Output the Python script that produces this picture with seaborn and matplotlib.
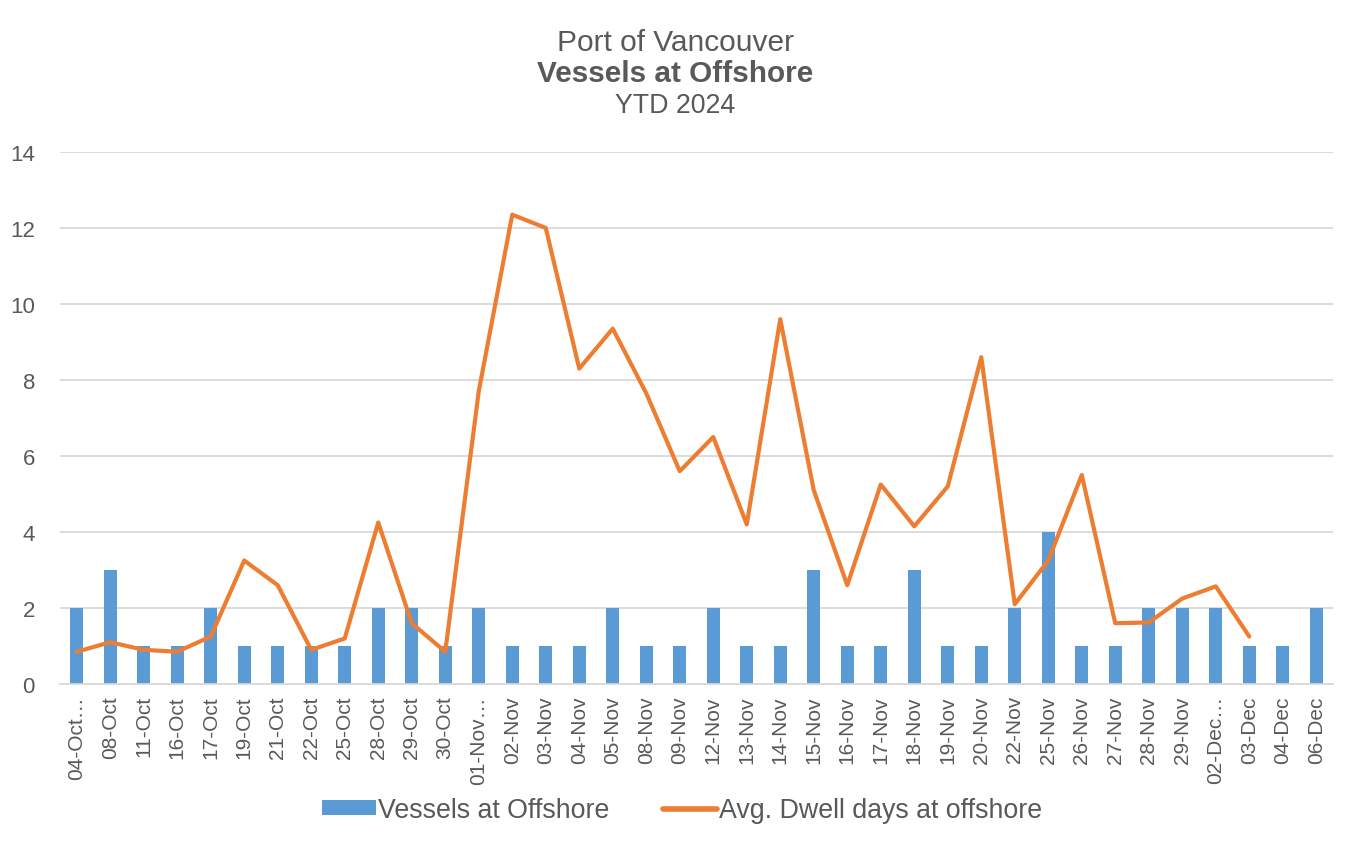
import numpy as np
import pandas as pd
import matplotlib
matplotlib.use("Agg")
import matplotlib.pyplot as plt
import seaborn as sns
from matplotlib.patches import Patch
from matplotlib.lines import Line2D

# ── data ─────────────────────────────────────────────────────────────────
dates = ["04-Oct…", "08-Oct", "11-Oct", "16-Oct", "17-Oct", "19-Oct", "21-Oct",
         "22-Oct", "25-Oct", "28-Oct", "29-Oct", "30-Oct", "01-Nov…", "02-Nov",
         "03-Nov", "04-Nov", "05-Nov", "08-Nov", "09-Nov", "12-Nov", "13-Nov",
         "14-Nov", "15-Nov", "16-Nov", "17-Nov", "18-Nov", "19-Nov", "20-Nov",
         "22-Nov", "25-Nov", "26-Nov", "27-Nov", "28-Nov", "29-Nov", "02-Dec…",
         "03-Dec", "04-Dec", "06-Dec"]
vessels = [2, 3, 1, 1, 2, 1, 1, 1, 1, 2, 2, 1, 2, 1, 1, 1, 2, 1, 1, 2, 1, 1,
           3, 1, 1, 3, 1, 1, 2, 4, 1, 1, 2, 2, 2, 1, 1, 2]
dwell = [0.85, 1.1, 0.9, 0.85, 1.25, 3.25, 2.6, 0.9, 1.2, 4.25, 1.6, 0.85,
         7.7, 12.35, 12.0, 8.3, 9.35, 7.65, 5.6, 6.5, 4.2, 9.6, 5.1, 2.6,
         5.25, 4.15, 5.2, 8.6, 2.1, 3.25, 5.5, 1.6, 1.62, 2.25, 2.57, 1.25,
         np.nan, np.nan]

BLUE = "#5b9bd5"
ORANGE = "#ed7d31"
GREY = "#595959"
GRID = "#d9d9d9"

df = pd.DataFrame({"date": dates, "vessels": vessels, "dwell": dwell})
df["pos"] = np.arange(len(df))

# ── plot ────────────────────────────────────────────────────────────────
sns.set_theme(style="white")
plt.rcParams["font.family"] = ["Liberation Sans", "DejaVu Sans"]

fig = plt.figure(figsize=(13.51, 8.45), dpi=100)
ax = fig.add_axes([0.0444, 0.1893, 0.9423, 0.6297])

sns.barplot(data=df, x="date", y="vessels", color=BLUE, width=0.4,
            saturation=1, linewidth=0, ax=ax, zorder=2)
sns.lineplot(data=df, x="pos", y="dwell", color=ORANGE, linewidth=3.0,
             ax=ax, zorder=3)

ax.set_xlim(-0.5, len(dates) - 0.5)
ax.set_ylim(0, 14)
ax.set_yticks(range(0, 15, 2))
ax.set_xticks(df["pos"])
ax.set_xticklabels(dates, rotation=90, fontsize=15, color=GREY)
ax.tick_params(axis="y", labelsize=16, labelcolor=GREY, length=0, pad=18)
ax.tick_params(axis="x", length=0, pad=8)
ax.set_xlabel("")
ax.set_ylabel("")

ax.yaxis.grid(True, color=GRID, linewidth=1.3, zorder=0)
ax.set_axisbelow(True)
for side in ["top", "right", "left"]:
    ax.spines[side].set_visible(False)
ax.spines["bottom"].set_color(GRID)
ax.spines["bottom"].set_linewidth(1.3)

# title block
fig.text(0.5, 0.949, "Port of Vancouver", ha="center", va="center",
         fontsize=21.5, color=GREY)
fig.text(0.5, 0.913, "Vessels at Offshore", ha="center", va="center",
         fontsize=21.4, fontweight="bold", color=GREY)
fig.text(0.5, 0.875, "YTD 2024", ha="center", va="center",
         fontsize=19.3, color=GREY)

handles = [Patch(facecolor=BLUE, edgecolor="none"),
           Line2D([], [], color=ORANGE, linewidth=4, solid_capstyle="round")]
fig.legend(handles, ["Vessels at Offshore", "Avg. Dwell days at offshore"],
           loc="center", bbox_to_anchor=(0.505, 0.040), ncol=2, frameon=False,
           fontsize=19.3, labelcolor=GREY, handlelength=2.0, handleheight=0.5,
           handletextpad=0.1, columnspacing=2.0)

fig.savefig("out.png", dpi=100)
plt.close(fig)
